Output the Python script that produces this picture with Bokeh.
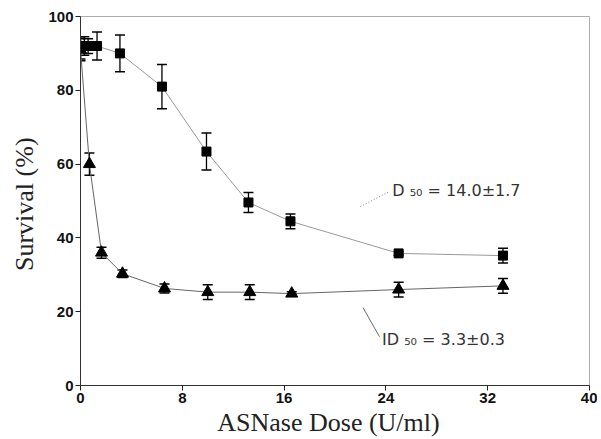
from bokeh.plotting import figure
from bokeh.models import ColumnDataSource, Whisker, Label, FixedTicker, Range1d
from bokeh.embed import file_html
from bokeh.resources import INLINE

# Data
sq_dose = [0.0, 0.3, 0.6, 1.3, 3.1, 6.4, 9.9, 13.2, 16.5, 25.0, 33.2]
sq_surv = [91.5, 92.0, 92.0, 92.0, 90.0, 81.0, 63.4, 49.6, 44.5, 35.8, 35.2]
sq_err = [3.0, 2.5, 2.0, 3.8, 5.0, 6.0, 5.0, 2.7, 2.0, 0.5, 2.0]

tri_dose = [0.0, 0.7, 1.65, 3.3, 6.6, 10.0, 13.3, 16.6, 25.0, 33.2]
tri_surv = [91.0, 60.0, 36.0, 30.3, 26.3, 25.3, 25.3, 24.9, 26.0, 27.0]
tri_err = [3.0, 3.0, 1.5, 1.0, 1.2, 2.0, 2.0, 0.5, 2.0, 2.0]

x_ticks = [0, 8, 16, 24, 32, 40]
y_ticks = [0, 20, 40, 60, 80, 100]

ann_sq = "D \u2085\u2080 = 14.0\u00b11.7"
ann_tri = "ID \u2085\u2080 = 3.3\u00b10.3"

sq_src = ColumnDataSource(dict(x=sq_dose, y=sq_surv,
                               lo=[v - e for v, e in zip(sq_surv, sq_err)],
                               hi=[v + e for v, e in zip(sq_surv, sq_err)]))
tri_src = ColumnDataSource(dict(x=tri_dose, y=tri_surv,
                                lo=[v - e for v, e in zip(tri_surv, tri_err)],
                                hi=[v + e for v, e in zip(tri_surv, tri_err)]))

p = figure(frame_width=509, frame_height=369, output_backend="svg", toolbar_location=None,
           x_range=Range1d(0, 40), y_range=Range1d(0, 100),
           min_border_left=80, min_border_right=8, min_border_top=16, min_border_bottom=40)
p.xgrid.visible = False
p.ygrid.visible = False
p.outline_line_color = "#999999"
p.outline_line_alpha = 0.8
p.background_fill_color = "white"
p.border_fill_color = "white"

# connecting lines
p.line("x", "y", source=sq_src, line_color="#999999", line_width=1)
p.line("x", "y", source=tri_src, line_color="#666666", line_width=1)

# error bars
for src in (sq_src, tri_src):
    w = Whisker(source=src, base="x", lower="lo", upper="hi",
                line_color="black", line_width=1.3)
    w.upper_head.size = 10
    w.lower_head.size = 10
    w.upper_head.line_width = 1.5
    w.lower_head.line_width = 1.5
    p.add_layout(w)

p.scatter("x", "y", source=sq_src, marker="square", size=9,
          fill_color="black", line_color="black")
p.scatter("x", "y", source=tri_src, marker="triangle", size=12,
          fill_color="black", line_color="black")

# annotations with leader lines
p.line([22.0, 24.3], [48.5, 52.6], line_color="#888888", line_dash="1 2", line_width=1)
p.line([22.2, 23.5], [21.1, 13.2], line_color="#444444", line_width=0.8)
p.add_layout(Label(x=24.5, y=50.3, text=ann_sq, text_font="DejaVu Sans",
                   text_font_size="16px", text_color="#333333"))
p.add_layout(Label(x=23.7, y=10.0, text=ann_tri, text_font="DejaVu Sans",
                   text_font_size="16px", text_color="#333333"))

for ax, ticks in ((p.xaxis, x_ticks), (p.yaxis, y_ticks)):
    ax.ticker = FixedTicker(ticks=ticks)
    ax.minor_tick_line_color = None
    ax.major_tick_in = 0
    ax.major_tick_out = 5
    ax.major_tick_line_color = "#222222"
    ax.axis_line_color = "#333333"
    ax.major_label_text_font = "Liberation Sans"
    ax.major_label_text_font_style = "bold"
    ax.major_label_text_font_size = "15px"
    ax.major_label_text_color = "#111111"
    ax.axis_label_text_font = "Liberation Serif"
    ax.axis_label_text_font_style = "normal"
    ax.axis_label_text_font_size = "26px"
    ax.axis_label_text_color = "#222222"

p.xaxis.axis_label = "ASNase  Dose  (U/ml)"
p.yaxis.axis_label = "Survival  (%)"
p.xaxis.major_label_standoff = 2
p.xaxis.axis_label_standoff = 2
p.yaxis.major_label_standoff = 2
p.yaxis.axis_label_standoff = 6

open("out.html", "w").write(file_html(p, INLINE))
